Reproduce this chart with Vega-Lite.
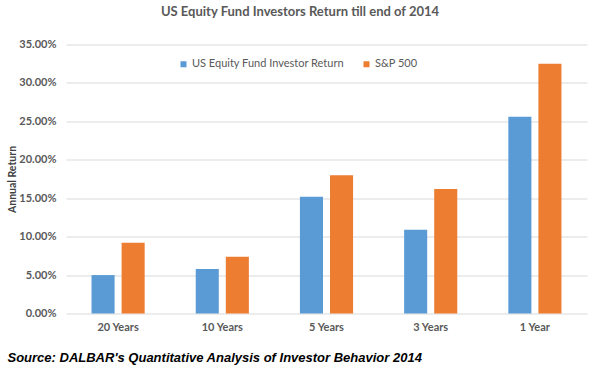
{
  "$schema": "https://vega.github.io/schema/vega-lite/v6.json",
  "width": 521,
  "height": 269,
  "autosize": "none",
  "padding": {"left": 66, "top": 44.5, "right": 13, "bottom": 60.5},
  "background": "white",
  "title": {
    "text": "US Equity Fund Investors Return till end of 2014",
    "font": "Lato",
    "fontSize": 13,
    "fontWeight": "bold",
    "color": "#595959",
    "anchor": "middle",
    "dx": -26.5,
    "offset": 20
  },
  "data": {
    "values": [
      {"period": "20 Years", "series": "US Equity Fund Investor Return", "value": 0.050},
      {"period": "20 Years", "series": "S&P 500", "value": 0.092},
      {"period": "10 Years", "series": "US Equity Fund Investor Return", "value": 0.058},
      {"period": "10 Years", "series": "S&P 500", "value": 0.074},
      {"period": "5 Years", "series": "US Equity Fund Investor Return", "value": 0.152},
      {"period": "5 Years", "series": "S&P 500", "value": 0.180},
      {"period": "3 Years", "series": "US Equity Fund Investor Return", "value": 0.109},
      {"period": "3 Years", "series": "S&P 500", "value": 0.162},
      {"period": "1 Year", "series": "US Equity Fund Investor Return", "value": 0.256},
      {"period": "1 Year", "series": "S&P 500", "value": 0.325}
    ]
  },
  "mark": {"type": "bar"},
  "encoding": {
    "x": {
      "field": "period",
      "type": "nominal",
      "sort": ["20 Years", "10 Years", "5 Years", "3 Years", "1 Year"],
      "scale": {"paddingInner": 0.49, "paddingOuter": 0.245},
      "axis": {
        "labelAngle": 0,
        "labelFont": "Lato",
        "labelFontSize": 11,
        "labelFontWeight": "bold",
        "labelColor": "#595959",
        "labelPadding": 8,
        "ticks": false,
        "domain": false,
        "title": "Source: DALBAR's Quantitative Analysis of Investor Behavior 2014",
        "titleFont": "Liberation Sans",
        "titleFontSize": 13,
        "titleFontWeight": "bold",
        "titleFontStyle": "italic",
        "titleColor": "#000000",
        "titleAnchor": "start",
        "titleAlign": "left",
        "titleBaseline": "middle",
        "titleX": -59,
        "titleY": 44
      }
    },
    "xOffset": {
      "field": "series",
      "type": "nominal",
      "sort": ["US Equity Fund Investor Return", "S&P 500"],
      "scale": {"paddingInner": 0.233}
    },
    "y": {
      "field": "value",
      "type": "quantitative",
      "scale": {"domain": [0, 0.35], "nice": false},
      "axis": {
        "format": ".2%",
        "values": [0, 0.05, 0.1, 0.15, 0.2, 0.25, 0.3, 0.35],
        "grid": true,
        "gridColor": "#d9d9d9",
        "gridWidth": 1,
        "domain": false,
        "ticks": false,
        "labelPadding": 10,
        "labelFont": "Lato",
        "labelFontSize": 11,
        "labelFontWeight": "bold",
        "labelColor": "#595959",
        "title": "Annual Return",
        "titleFont": "Lato",
        "titleFontSize": 10.5,
        "titleFontWeight": "bold",
        "titleColor": "#404040",
        "titleAngle": -90,
        "titleAlign": "center",
        "titleBaseline": "middle",
        "titleX": -54,
        "titleY": 134.5
      }
    },
    "color": {
      "field": "series",
      "type": "nominal",
      "scale": {
        "domain": ["US Equity Fund Investor Return", "S&P 500"],
        "range": ["#5B9BD5", "#ED7D31"]
      },
      "legend": {
        "orient": "none",
        "legendX": 112,
        "legendY": 14,
        "direction": "horizontal",
        "title": null,
        "symbolType": "square",
        "symbolSize": 36,
        "symbolStrokeWidth": 0,
        "labelFont": "Lato",
        "labelFontSize": 11,
        "labelColor": "#595959",
        "labelOffset": 3,
        "columnPadding": 16
      }
    }
  },
  "config": {"view": {"stroke": null}}
}
